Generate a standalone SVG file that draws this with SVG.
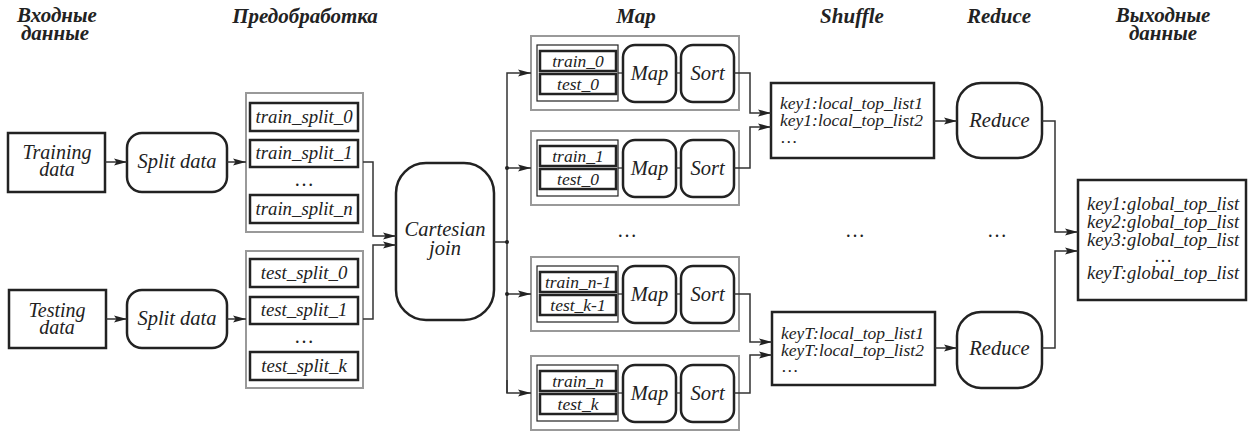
<svg xmlns="http://www.w3.org/2000/svg" width="1249" height="432" viewBox="0 0 1249 432">
<style>
text{font-style:italic;fill:#222}
.h{font-weight:bold;font-size:21px;text-anchor:middle}
.t20{font-size:20.5px;text-anchor:middle}
.t2l{font-size:20px;text-anchor:middle}
.t19{font-size:18.8px;text-anchor:middle}
.t17{font-size:17.5px;text-anchor:middle}
.ts{font-size:17.5px}
.tg{font-size:18.5px;text-anchor:middle}
.dots{font-size:20px;text-anchor:middle;font-style:normal}
.blk{fill:#fff;stroke:#222;stroke-width:2.5}
.thin{fill:#fff;stroke:#222;stroke-width:1.2}
.grey{fill:#fff;stroke:#999;stroke-width:2}
.c{fill:none;stroke:#333;stroke-width:1.5}
.l{fill:none;stroke:#333;stroke-width:1.3}
</style>
<defs>
<marker id="a" markerUnits="userSpaceOnUse" markerWidth="14" markerHeight="10" refX="13" refY="5" orient="auto">
<path d="M0,1.5 L13,5 L0,8.5 L2.5,5 Z" fill="#222"/>
</marker>
</defs>

<g id="headers">
<text font-family="Liberation Serif" class="h" x="57" y="22">Входные</text>
<text font-family="Liberation Serif" class="h" x="55" y="40">данные</text>
<text font-family="Liberation Serif" class="h" x="305" y="23">Предобработка</text>
<text font-family="Liberation Serif" class="h" x="636" y="23">Map</text>
<text font-family="Liberation Serif" class="h" x="852" y="23">Shuffle</text>
<text font-family="Liberation Serif" class="h" x="999" y="23">Reduce</text>
<text font-family="Liberation Serif" class="h" x="1163" y="22">Выходные</text>
<text font-family="Liberation Serif" class="h" x="1163" y="40">данные</text>
</g>

<g id="training-data">
<rect class="blk" x="8" y="133" width="97" height="59"/>
<text font-family="Liberation Serif" class="t2l" x="57" y="159">Training</text>
<text font-family="Liberation Serif" class="t2l" x="57" y="176">data</text>
</g>
<g id="testing-data">
<rect class="blk" x="9" y="290" width="97" height="58"/>
<text font-family="Liberation Serif" class="t2l" x="57" y="317">Testing</text>
<text font-family="Liberation Serif" class="t2l" x="57" y="334">data</text>
</g>
<g id="split-train">
<rect class="blk" x="127" y="133" width="100" height="59" rx="15"/>
<text font-family="Liberation Serif" class="t20" x="177" y="168">Split data</text>
</g>
<g id="split-test">
<rect class="blk" x="127" y="290" width="100" height="58" rx="15"/>
<text font-family="Liberation Serif" class="t20" x="177" y="325">Split data</text>
</g>

<g id="train-splits">
<rect class="grey" x="246" y="93" width="117" height="139"/>
<rect class="blk" x="250" y="103" width="108" height="28"/>
<text font-family="Liberation Serif" class="t19" x="304" y="123">train_split_0</text>
<rect class="blk" x="250" y="140" width="108" height="27"/>
<text font-family="Liberation Serif" class="t19" x="304" y="159">train_split_1</text>
<text font-family="Liberation Serif" class="dots" x="304" y="186">…</text>
<rect class="blk" x="250" y="195" width="108" height="28"/>
<text font-family="Liberation Serif" class="t19" x="304" y="215">train_split_n</text>
</g>
<g id="test-splits">
<rect class="grey" x="246" y="251" width="117" height="137"/>
<rect class="blk" x="250" y="259" width="108" height="28"/>
<text font-family="Liberation Serif" class="t19" x="304" y="279">test_split_0</text>
<rect class="blk" x="250" y="297" width="108" height="27"/>
<text font-family="Liberation Serif" class="t19" x="304" y="316">test_split_1</text>
<text font-family="Liberation Serif" class="dots" x="304" y="343">…</text>
<rect class="blk" x="250" y="352" width="108" height="28"/>
<text font-family="Liberation Serif" class="t19" x="304" y="372">test_split_k</text>
</g>

<g id="cartesian-join">
<rect class="blk" x="396" y="163" width="98" height="157" rx="30"/>
<text font-family="Liberation Serif" class="t20" x="445" y="236">Cartesian</text>
<text font-family="Liberation Serif" class="t20" x="445" y="255">join</text>
</g>

<g id="map-0">
<rect class="grey" x="531" y="36" width="208" height="74"/>
<rect class="thin" x="537" y="45" width="81" height="56"/>
<rect class="blk" x="540" y="51" width="76" height="20"/>
<text font-family="Liberation Serif" class="t17" x="578" y="67">train_0</text>
<rect class="blk" x="540" y="74" width="76" height="20"/>
<text font-family="Liberation Serif" class="t17" x="578" y="90">test_0</text>
<line class="l" x1="618" y1="73" x2="623" y2="73"/>
<rect class="blk" x="623" y="45" width="53" height="57" rx="12"/>
<text font-family="Liberation Serif" class="t20" x="649.5" y="80">Map</text>
<line class="l" x1="676" y1="73" x2="681" y2="73"/>
<rect class="blk" x="681" y="45" width="53" height="57" rx="12"/>
<text font-family="Liberation Serif" class="t20" x="707.5" y="80">Sort</text>
</g>
<g id="map-1">
<rect class="grey" x="531" y="131" width="208" height="74"/>
<rect class="thin" x="537" y="140" width="81" height="56"/>
<rect class="blk" x="540" y="146" width="76" height="20"/>
<text font-family="Liberation Serif" class="t17" x="578" y="162">train_1</text>
<rect class="blk" x="540" y="169" width="76" height="20"/>
<text font-family="Liberation Serif" class="t17" x="578" y="185">test_0</text>
<line class="l" x1="618" y1="168" x2="623" y2="168"/>
<rect class="blk" x="623" y="140" width="53" height="57" rx="12"/>
<text font-family="Liberation Serif" class="t20" x="649.5" y="175">Map</text>
<line class="l" x1="676" y1="168" x2="681" y2="168"/>
<rect class="blk" x="681" y="140" width="53" height="57" rx="12"/>
<text font-family="Liberation Serif" class="t20" x="707.5" y="175">Sort</text>
</g>
<g id="map-n1">
<rect class="grey" x="531" y="257" width="208" height="74"/>
<rect class="thin" x="537" y="266" width="81" height="56"/>
<rect class="blk" x="540" y="272" width="76" height="20"/>
<text font-family="Liberation Serif" class="t17" x="578" y="288">train_n-1</text>
<rect class="blk" x="540" y="295" width="76" height="20"/>
<text font-family="Liberation Serif" class="t17" x="578" y="311">test_k-1</text>
<line class="l" x1="618" y1="294" x2="623" y2="294"/>
<rect class="blk" x="623" y="266" width="53" height="57" rx="12"/>
<text font-family="Liberation Serif" class="t20" x="649.5" y="301">Map</text>
<line class="l" x1="676" y1="294" x2="681" y2="294"/>
<rect class="blk" x="681" y="266" width="53" height="57" rx="12"/>
<text font-family="Liberation Serif" class="t20" x="707.5" y="301">Sort</text>
</g>
<g id="map-n">
<rect class="grey" x="531" y="356" width="208" height="74"/>
<rect class="thin" x="537" y="365" width="81" height="56"/>
<rect class="blk" x="540" y="371" width="76" height="20"/>
<text font-family="Liberation Serif" class="t17" x="578" y="387">train_n</text>
<rect class="blk" x="540" y="394" width="76" height="20"/>
<text font-family="Liberation Serif" class="t17" x="578" y="410">test_k</text>
<line class="l" x1="618" y1="393" x2="623" y2="393"/>
<rect class="blk" x="623" y="365" width="53" height="57" rx="12"/>
<text font-family="Liberation Serif" class="t20" x="649.5" y="400">Map</text>
<line class="l" x1="676" y1="393" x2="681" y2="393"/>
<rect class="blk" x="681" y="365" width="53" height="57" rx="12"/>
<text font-family="Liberation Serif" class="t20" x="707.5" y="400">Sort</text>
</g>

<g id="shuffle-1">
<rect class="blk" x="771" y="83" width="163" height="75"/>
<text font-family="Liberation Serif" class="ts" x="780" y="109">key1:local_top_list1</text>
<text font-family="Liberation Serif" class="ts" x="780" y="126">key1:local_top_list2</text>
<text font-family="Liberation Serif" class="ts" x="780" y="143" style="font-style:normal">…</text>
</g>
<g id="shuffle-t">
<rect class="blk" x="772" y="312" width="163" height="73"/>
<text font-family="Liberation Serif" class="ts" x="781" y="339">keyT:local_top_list1</text>
<text font-family="Liberation Serif" class="ts" x="781" y="356">keyT:local_top_list2</text>
<text font-family="Liberation Serif" class="ts" x="781" y="372" style="font-style:normal">…</text>
</g>

<g id="reduce-1">
<rect class="blk" x="957" y="83" width="85" height="75" rx="24"/>
<text font-family="Liberation Serif" class="t20" x="999.5" y="127">Reduce</text>
</g>
<g id="reduce-t">
<rect class="blk" x="957" y="312" width="85" height="76" rx="24"/>
<text font-family="Liberation Serif" class="t20" x="999.5" y="355">Reduce</text>
</g>

<g id="output">
<rect class="blk" x="1078" y="180" width="168" height="120"/>
<text font-family="Liberation Serif" class="tg" x="1163" y="210">key1:global_top_list</text>
<text font-family="Liberation Serif" class="tg" x="1163" y="228">key2:global_top_list</text>
<text font-family="Liberation Serif" class="tg" x="1163" y="246">key3:global_top_list</text>
<text font-family="Liberation Serif" class="tg" x="1163" y="262" style="font-style:normal">…</text>
<text font-family="Liberation Serif" class="tg" x="1163" y="279">keyT:global_top_list</text>
</g>

<g id="ellipses">
<text font-family="Liberation Serif" class="dots" x="627" y="237">…</text>
<text font-family="Liberation Serif" class="dots" x="855" y="237">…</text>
<text font-family="Liberation Serif" class="dots" x="997" y="237">…</text>
</g>

<g id="connectors">
<line class="c" x1="105" y1="162" x2="127" y2="162" marker-end="url(#a)"/>
<line class="c" x1="227" y1="162" x2="246" y2="162" marker-end="url(#a)"/>
<line class="c" x1="106" y1="319" x2="127" y2="319" marker-end="url(#a)"/>
<line class="c" x1="227" y1="319" x2="246" y2="319" marker-end="url(#a)"/>
<polyline class="c" points="363,162 373,162 373,236 396,236" marker-end="url(#a)"/>
<polyline class="c" points="363,319 373,319 373,245 396,245" marker-end="url(#a)"/>
<line class="c" x1="494" y1="242" x2="507" y2="242"/>
<polyline class="c" points="507,393 507,73 531,73" marker-end="url(#a)"/>
<polyline class="c" points="507,380 507,393 531,393" marker-end="url(#a)"/>
<line class="c" x1="507" y1="168" x2="531" y2="168" marker-end="url(#a)"/>
<line class="c" x1="507" y1="294" x2="531" y2="294" marker-end="url(#a)"/>
<circle cx="507" cy="168" r="2" fill="#222"/>
<circle cx="507" cy="242" r="2" fill="#222"/>
<circle cx="507" cy="294" r="2" fill="#222"/>
<polyline class="c" points="734,73 750,73 750,113 771,113" marker-end="url(#a)"/>
<polyline class="c" points="734,168 750,168 750,127 771,127" marker-end="url(#a)"/>
<polyline class="c" points="734,294 750,294 750,342 772,342" marker-end="url(#a)"/>
<polyline class="c" points="734,393 750,393 750,355 772,355" marker-end="url(#a)"/>
<line class="c" x1="934" y1="121" x2="957" y2="121" marker-end="url(#a)"/>
<line class="c" x1="935" y1="348" x2="957" y2="348" marker-end="url(#a)"/>
<polyline class="c" points="1042,121 1055,121 1055,232 1078,232" marker-end="url(#a)"/>
<polyline class="c" points="1042,348 1055,348 1055,251 1078,251" marker-end="url(#a)"/>
</g>
</svg>
